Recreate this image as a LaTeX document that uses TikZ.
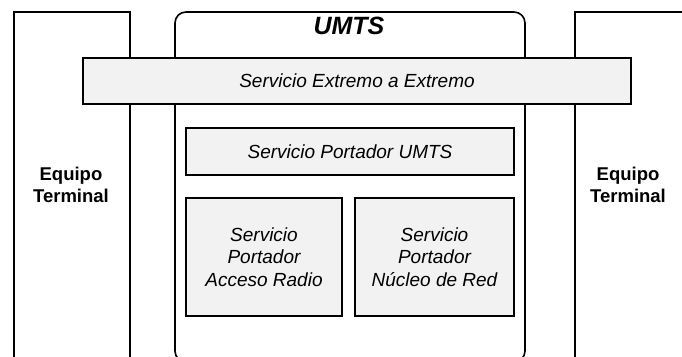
\documentclass[tikz,border=0pt]{standalone}
\usepackage{fontspec}
\setmainfont{Liberation Sans}

\begin{document}
\begin{tikzpicture}[x=1pt, y=-1pt, line width=1.6pt,
        servicio/.style={draw, fill=gray!10, inner sep=0pt, align=center,
            font=\fontsize{19}{22.5}\selectfont\itshape},
        equipo/.style={align=center, font=\fontsize{18.5}{22}\selectfont\bfseries}]
    \useasboundingbox (0,0) rectangle (682,356);
    \clip (0,0) rectangle (682,356);

    % equipos terminales y dominio UMTS
    \draw (14,370) -- (14,12) -- (130,12) -- (130,370);
    \draw (575,370) -- (575,12) -- (690,12);
    \draw[rounded corners=11pt] (175,12) rectangle (525,362);

    \node[equipo] (eqizq) at (71,185) {Equipo\\Terminal};
    \node[equipo] (eqder) at (628,185) {Equipo\\Terminal};
    \node[font=\fontsize{25}{28}\selectfont\bfseries\itshape] (umts) at (349,26) {UMTS};

    % servicios portadores
    \node[servicio, minimum width=548pt, minimum height=46pt] (extremo) at (357,81) {Servicio Extremo a Extremo};
    \node[servicio, minimum width=328pt, minimum height=47pt] (portador) at (350,151.5) {Servicio Portador UMTS};
    \node[servicio, minimum width=156pt, minimum height=118pt] (radio) at (264,257) {Servicio\\Portador\\Acceso Radio};
    \node[servicio, minimum width=159pt, minimum height=118pt] (nucleo) at (434.5,257) {Servicio\\Portador\\Núcleo de Red};
\end{tikzpicture}
\end{document}
